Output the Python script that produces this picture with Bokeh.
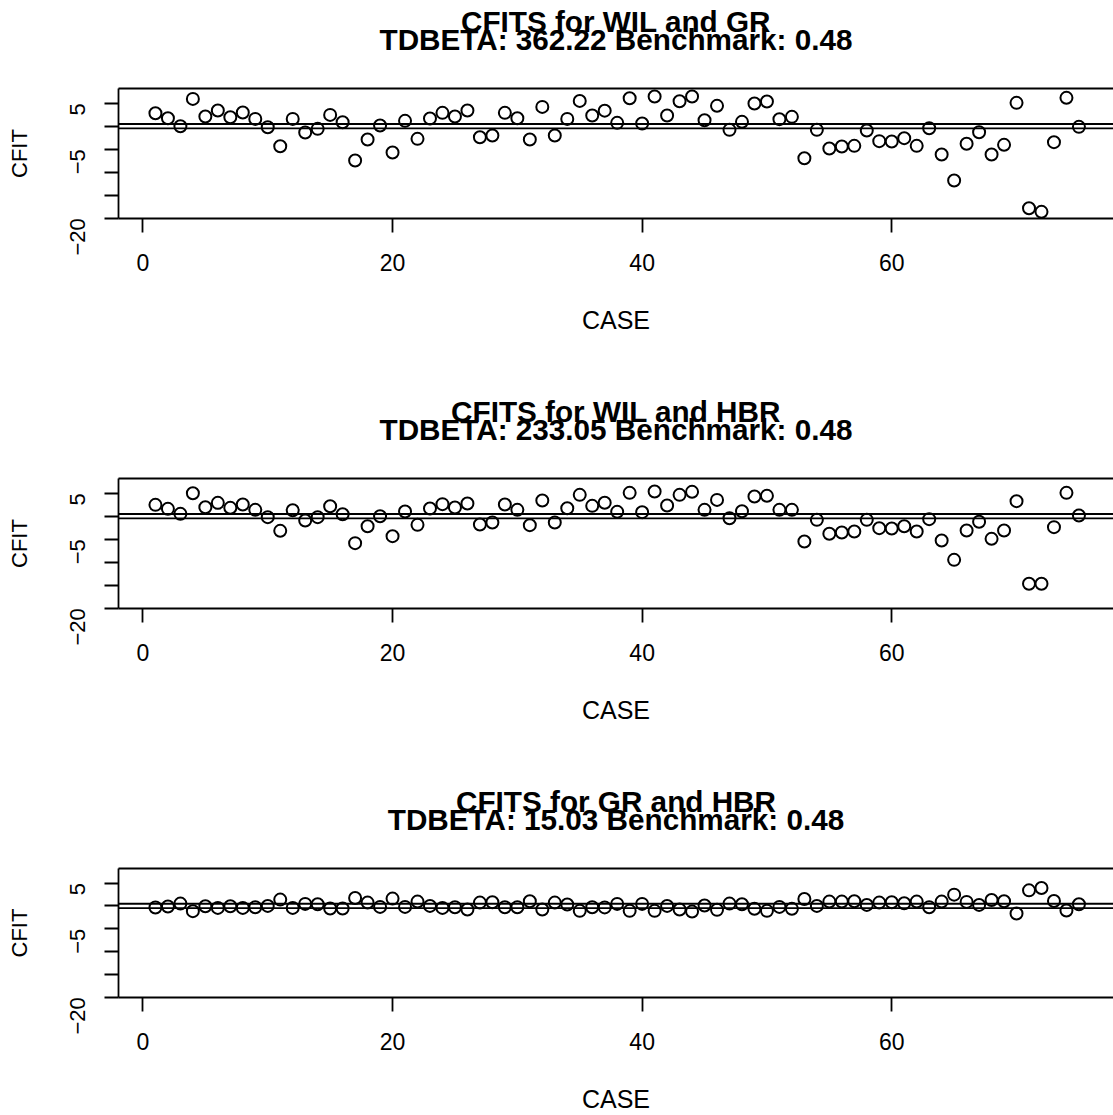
import math
from bokeh.plotting import figure
from bokeh.layouts import column
from bokeh.models import Span, LinearAxis, FixedTicker, Range1d
from bokeh.embed import file_html
from bokeh.resources import INLINE

cases = list(range(1, 76))

cfit_wil_gr = [2.83, 1.74, 0.0, 5.94, 2.1, 3.4, 1.96, 2.97, 1.59, -0.22,
               -4.35, 1.59, -1.38, -0.58, 2.46, 0.87, -7.46, -2.9, 0.15, -5.72,
               1.16, -2.75, 1.67, 2.9, 2.1, 3.4, -2.39, -2.03, 2.9, 1.74,
               -2.9, 4.2, -2.03, 1.59, 5.5, 2.32, 3.38, 0.73, 6.09, 0.59,
               6.46, 2.32, 5.44, 6.46, 1.31, 4.43, -0.79, 0.95, 4.93, 5.37,
               1.53, 2.03, -6.96, -0.79, -4.85, -4.41, -4.27, -0.93, -3.25, -3.33,
               -2.6, -4.27, -0.43, -6.15, -11.8, -3.83, -1.3, -6.15, -4.05, 5.08,
               -17.83, -18.62, -3.47, 6.17, -0.14]

cfit_wil_hbr = [2.47, 1.6, 0.51, 5.0, 1.96, 2.9, 1.82, 2.54, 1.38, -0.21,
                -3.18, 1.31, -0.93, -0.21, 2.18, 0.44, -5.86, -2.17, 0.0, -4.34,
                1.02, -1.88, 1.67, 2.62, 1.89, 2.76, -1.8, -1.37, 2.54, 1.38,
                -1.95, 3.41, -1.37, 1.74, 4.64, 2.25, 2.93, 0.95, 5.08, 0.88,
                5.37, 2.32, 4.64, 5.3, 1.38, 3.55, -0.43, 1.09, 4.28, 4.43,
                1.38, 1.38, -5.5, -0.79, -3.83, -3.54, -3.33, -0.79, -2.6, -2.67,
                -2.17, -3.33, -0.64, -5.28, -9.49, -3.11, -1.22, -4.92, -3.11, 3.27,
                -14.7, -14.7, -2.38, 5.08, 0.15]

cfit_gr_hbr = [-0.36, -0.14, 0.51, -1.15, -0.07, -0.43, -0.07, -0.43, -0.28, 0.0,
               1.38, -0.43, 0.44, 0.37, -0.57, -0.57, 1.74, 0.73, -0.21, 1.6,
               -0.21, 0.95, 0.0, -0.43, -0.28, -0.79, 0.73, 0.8, -0.28, -0.28,
               1.02, -0.79, 0.73, 0.3, -1.08, -0.28, -0.32, 0.44, -1.08, 0.44,
               -1.08, 0.0, -0.79, -1.24, 0.08, -0.86, 0.51, 0.37, -0.64, -1.08,
               -0.21, -0.64, 1.53, 0.0, 0.95, 0.95, 1.02, 0.22, 0.73, 0.8,
               0.58, 0.95, -0.28, 0.95, 2.47, 0.88, 0.22, 1.31, 1.02, -1.66,
               3.41, 3.92, 1.09, -1.01, 0.37]

titles = ["CFITS for WIL and GR", "CFITS for WIL and HBR", "CFITS for GR and HBR"]
subtitles = ["TDBETA: 362.22 Benchmark: 0.48",
             "TDBETA: 233.05 Benchmark: 0.48",
             "TDBETA: 15.03 Benchmark: 0.48"]
series = [cfit_wil_gr, cfit_wil_hbr, cfit_gr_hbr]
benchmark = 0.48
y_ticks = [-20, -15, -10, -5, 0, 5]
y_tick_labels = {5: "5", 0: "", -5: "\u22125", -10: "", -15: "", -20: "\u221220"}
x_ticks = [0, 20, 40, 60]

FONT = "Liberation Sans"
LW = 1.8


def make_panel(i, height, bottom_border):
    p = figure(width=1113, height=height, output_backend="svg", toolbar_location=None,
               x_range=Range1d(-1.96, 77.77), y_range=Range1d(-20.07, 8.2),
               min_border_left=118, min_border_right=0, min_border_top=88,
               min_border_bottom=bottom_border, outline_line_color=None,
               background_fill_color="white", border_fill_color="white")
    p.grid.visible = False
    p.scatter(cases, series[i], marker="circle", size=12, fill_color=None,
              line_color="black", line_width=2)
    for loc in (benchmark, -benchmark):
        p.add_layout(Span(location=loc, dimension="width", line_color="black", line_width=LW))

    xa = p.xaxis[0]
    xa.ticker = FixedTicker(ticks=x_ticks)
    xa.axis_label = "CASE"
    ya = p.yaxis[0]
    ya.ticker = FixedTicker(ticks=y_ticks)
    ya.major_label_overrides = y_tick_labels
    ya.major_label_orientation = math.pi / 2
    ya.axis_label = "CFIT"
    for ax in (xa, ya):
        ax.minor_tick_line_color = None
        ax.major_tick_in = 0
        ax.major_tick_out = 14
        ax.major_tick_line_width = LW
        ax.axis_line_width = LW
        ax.major_label_text_font = FONT
        ax.major_label_text_color = "black"
        ax.axis_label_text_font = FONT
        ax.axis_label_text_font_style = "normal"
        ax.axis_label_text_color = "black"
        ax.axis_line_color = "black"
        ax.major_tick_line_color = "black"
    xa.major_label_text_font_size = "23px"
    ya.major_label_text_font_size = "22px"
    xa.axis_label_text_font_size = "25px"
    ya.axis_label_text_font_size = "22px"
    xa.major_label_standoff = 21
    xa.axis_label_standoff = 32
    ya.major_label_standoff = 27
    ya.axis_label_standoff = 28

    top = LinearAxis(ticker=FixedTicker(ticks=[]), major_label_text_font_size="0px",
                     major_label_standoff=0,
                     axis_line_width=LW, axis_line_color="black",
                     major_tick_line_color=None, minor_tick_line_color=None,
                     axis_label=titles[i] + "\n" + subtitles[i],
                     axis_label_text_font=FONT, axis_label_text_font_size="29.7px",
                     axis_label_text_font_style="bold", axis_label_text_color="black",
                     axis_label_text_line_height=0.53, axis_label_standoff=33)
    p.add_layout(top, "above")
    return p


p1 = make_panel(0, 390, 172)
p2 = make_panel(1, 390, 172)
p3 = make_panel(2, 335, 117)

layout = column(p1, p2, p3, spacing=0)
open("out.html", "w").write(file_html(layout, INLINE))
